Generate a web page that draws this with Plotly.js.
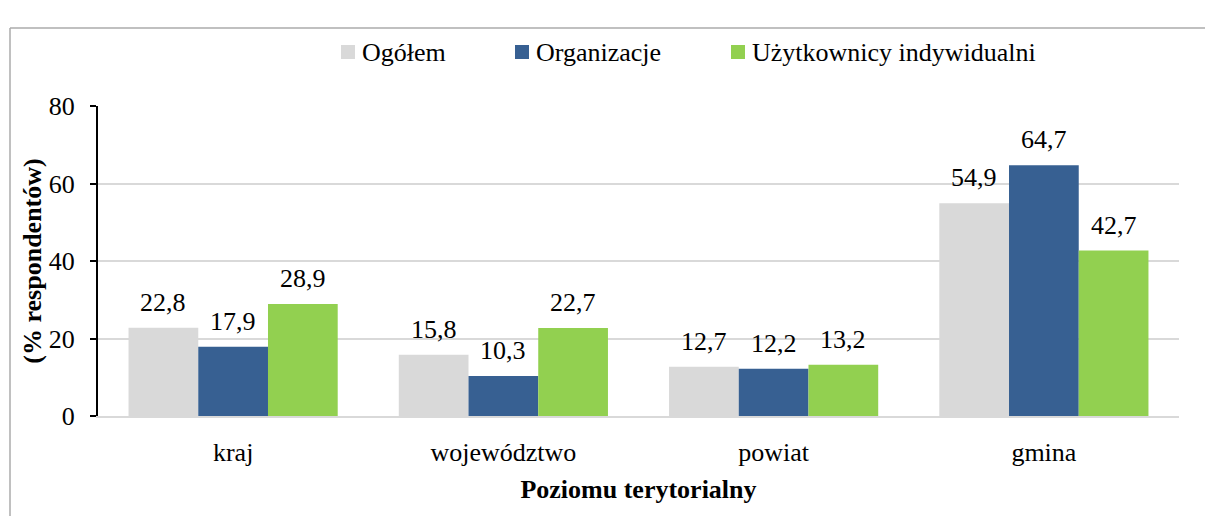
<!DOCTYPE html>
<html>
<head>
<meta charset="utf-8">
<script src="https://cdn.plot.ly/plotly-3.0.1.min.js"></script>
<style>html,body{margin:0;padding:0;background:#fff;}</style>
</head>
<body>
<div id="chart"></div>
<script>
const categories = ["kraj", "województwo", "powiat", "gmina"];
const seriesNames = ["Ogółem", "Organizacje", "Użytkownicy indywidualni"];
const ogolem = [22.8, 15.8, 12.7, 54.9];
const organizacje = [17.9, 10.3, 12.2, 64.7];
const uzytkownicy = [28.9, 22.7, 13.2, 42.7];
const colors = ["#D9D9D9", "#376092", "#92D050"];
const yTicks = [0, 20, 40, 60, 80];
const yTitle = "(% respondentów)";
const xTitle = "Poziomu terytorialny";

const FONT = "Liberation Serif";
const FS = 26;
const W = 1205, H = 516;
const M = {l: 98, r: 26, t: 106, b: 100};
const plotW = W - M.l - M.r, plotH = H - M.t - M.b;
const bargap = 0.226;
const barW = plotW / categories.length * (1 - bargap) / 3;

const series = [ogolem, organizacje, uzytkownicy];
const fmt = v => v.toFixed(1).replace('.', ',');

const traces = series.map((vals, i) => ({
  type: 'bar', x: categories, y: vals, name: seriesNames[i],
  marker: {color: colors[i], line: {width: 0}},
  hoverinfo: 'skip', showlegend: false
}));

const annotations = [];
series.forEach((vals, i) => {
  vals.forEach((v, j) => {
    annotations.push({
      x: categories[j], y: v, xref: 'x', yref: 'y',
      xshift: (i - 1) * barW, yshift: 9,
      yanchor: 'bottom', xanchor: 'center', showarrow: false,
      text: fmt(v), font: {family: FONT, size: FS, color: '#000'}
    });
  });
});

const px = x => (x - M.l) / plotW;
const py = y => (H - M.b - y) / plotH;
const legSwatchX = [341, 515, 731];
const shapes = [];
seriesNames.forEach((n, i) => {
  shapes.push({type: 'rect', xref: 'paper', yref: 'paper',
    x0: px(legSwatchX[i]), x1: px(legSwatchX[i] + 14), y0: py(59), y1: py(45),
    fillcolor: colors[i], line: {width: 0}});
  annotations.push({xref: 'paper', yref: 'paper', x: px(legSwatchX[i] + 19), y: py(52),
    xanchor: 'left', yanchor: 'middle', showarrow: false, text: n,
    font: {family: FONT, size: FS, color: '#000'}});
});
shapes.push({type: 'line', xref: 'paper', yref: 'paper', x0: px(10), x1: px(1210), y0: py(28), y1: py(28), line: {color: '#ABABAB', width: 1.5}});
shapes.push({type: 'line', xref: 'paper', yref: 'paper', x0: px(10), x1: px(10), y0: py(28), y1: py(530), line: {color: '#ABABAB', width: 1.5}});

const layout = {
  width: W, height: H,
  margin: M,
  paper_bgcolor: '#fff', plot_bgcolor: '#fff',
  barmode: 'group', bargap: bargap, bargroupgap: 0,
  font: {family: FONT, size: FS, color: '#000'},
  xaxis: {
    type: 'category', showgrid: false, zeroline: false,
    showline: true, linecolor: '#D9D9D9', linewidth: 2,
    ticks: '', ticklabelstandoff: 12,
    tickfont: {family: FONT, size: FS, color: '#000'},
    title: {text: xTitle, font: {family: FONT, size: FS, color: '#000', weight: 'bold'}, standoff: 14}
  },
  yaxis: {
    range: [0, 80], tickvals: yTicks, ticktext: yTicks.map(String),
    showgrid: true, gridcolor: '#D9D9D9', gridwidth: 2,
    zeroline: false, showline: true, linecolor: '#000', linewidth: 2,
    ticks: 'outside', ticklen: 6, tickwidth: 2, tickcolor: '#000',
    ticklabelstandoff: 10,
    tickfont: {family: FONT, size: FS, color: '#000'},
    title: {text: yTitle, font: {family: FONT, size: FS, color: '#000', weight: 'bold'}, standoff: 0}
  },
  showlegend: false,
  annotations: annotations,
  shapes: shapes
};

Plotly.newPlot('chart', traces, layout, {displayModeBar: false});
</script>
</body>
</html>
